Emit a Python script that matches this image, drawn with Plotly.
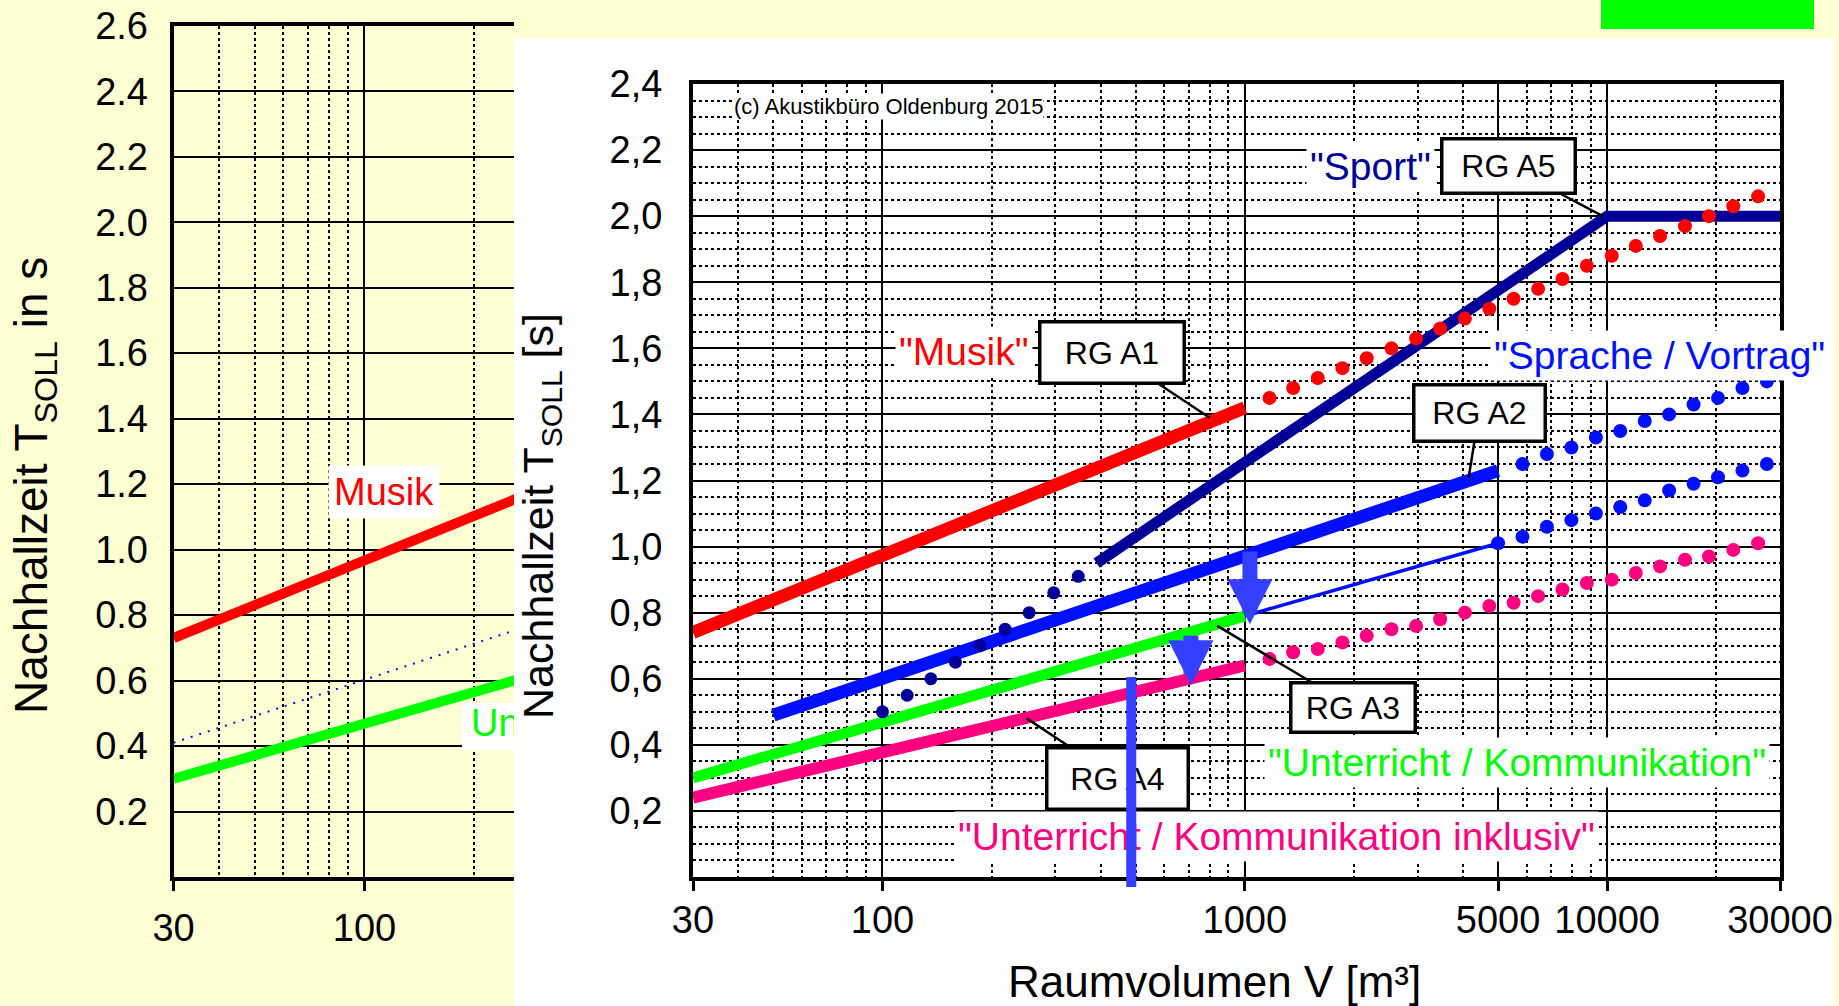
import math
import plotly.graph_objects as go

W, H = 1839, 1006

# ---------------- data: front chart ----------------
musik_v = [30, 1000]
musik_t = [0.74, 1.42]
musik_dot_v = [1170, 1360, 1590, 1860, 2170, 2540, 2970, 3460, 4050, 4730, 5520,
               6450, 7530, 8790, 10300, 12000, 14000, 16400, 19100, 22300, 26100]
musik_dot_t = [1.45, 1.48, 1.51, 1.54, 1.57, 1.60, 1.63, 1.66, 1.69, 1.72, 1.75,
               1.78, 1.81, 1.85, 1.88, 1.91, 1.94, 1.97, 2.00, 2.03, 2.06]

sport_v = [390, 10000, 30000]
sport_t = [0.95, 2.0, 2.0]
sport_dot_v = [100, 117, 136, 159, 186, 218, 254, 297, 347]
sport_dot_t = [0.50, 0.55, 0.60, 0.65, 0.70, 0.75, 0.80, 0.86, 0.91]

sprache_v = [50, 5000]
sprache_t = [0.49, 1.23]
sprache_dot_v = [5840, 6820, 7970, 9310, 10870, 12700, 14830, 17320, 20230, 23630, 27600]
sprache_dot_t = [1.25, 1.28, 1.30, 1.33, 1.35, 1.38, 1.40, 1.43, 1.45, 1.48, 1.50]

unterricht_v = [30, 1000]
unterricht_t = [0.30, 0.79]
unterricht_ext_v = [1000, 5000]
unterricht_ext_t = [0.79, 1.01]
unterricht_dot_v = [5840, 6820, 7970, 9310, 10870, 12700, 14830, 17320, 20230, 23630, 27600]
unterricht_dot_t = [1.03, 1.06, 1.08, 1.10, 1.12, 1.14, 1.17, 1.19, 1.21, 1.23, 1.25]

inklusiv_v = [30, 1000]
inklusiv_t = [0.24, 0.64]
inklusiv_dot_v = [1170, 1360, 1590, 1860, 2170, 2540, 2970, 3460, 4050, 4730, 5520,
                  6450, 7530, 8790, 10300, 12000, 14000, 16400, 19100, 22300, 26100]
inklusiv_dot_t = [0.66, 0.68, 0.69, 0.71, 0.73, 0.75, 0.76, 0.78, 0.80, 0.82, 0.83,
                  0.85, 0.87, 0.89, 0.90, 0.92, 0.94, 0.96, 0.97, 0.99, 1.01]

# arrows (V, from T, to T) and marker line
arrow_v = [1033, 710]
arrow_from_t = [0.99, 0.735]
arrow_to_t = [0.765, 0.58]
mark_v = 486
mark_t_top = 0.605
mark_t_bottom = -0.035

# RG labels: name, point on curve (V, T)
rg_names = ["RG A1", "RG A5", "RG A2", "RG A3", "RG A4"]
rg_point_v = [800, 9730, 4150, 840, 250]
rg_point_t = [1.39, 2.0, 1.21, 0.76, 0.48]

# ---------------- data: back chart (older version) ----------------
alt_musik_v = [30, 1000]
alt_musik_t = [0.73, 1.42]
alt_sprache_v = [30, 1000]
alt_sprache_t = [0.41, 0.97]
alt_unterricht_v = [30, 1000]
alt_unterricht_t = [0.30, 0.79]

# ---------------- ticks ----------------
front_xticks = [30, 100, 1000, 5000, 10000, 30000]
front_xtick_text = ["30", "100", "1000", "5000", "10000", "30000"]
front_yticks = [0.2, 0.4, 0.6, 0.8, 1.0, 1.2, 1.4, 1.6, 1.8, 2.0, 2.2, 2.4]
front_ytick_text = ["0,2", "0,4", "0,6", "0,8", "1,0", "1,2", "1,4", "1,6", "1,8", "2,0", "2,2", "2,4"]
back_xticks = [30, 100]
back_xtick_text = ["30", "100"]
back_yticks = [0.2, 0.4, 0.6, 0.8, 1.0, 1.2, 1.4, 1.6, 1.8, 2.0, 2.2, 2.4, 2.6]
back_ytick_text = ["0.2", "0.4", "0.6", "0.8", "1.0", "1.2", "1.4", "1.6", "1.8", "2.0", "2.2", "2.4", "2.6"]

major_x_grid = [100, 1000, 5000, 10000]
minor_x_grid = [40, 50, 60, 70, 80, 90, 200, 300, 400, 500, 600, 700, 800, 900,
                2000, 3000, 4000, 6000, 7000, 8000, 9000, 20000]
minor_y_grid = [round(0.05 * k, 2) for k in range(1, 48) if k % 4 != 0]

# ---------------- layout geometry (pixels) ----------------
FONT = "Liberation Sans, Arial, sans-serif"
FX0, FX1, FY0, FY1 = 693, 1780, 84, 877          # front plot area
BX0, BY0, BY1 = 173.6, 25.8, 877                 # back plot area
PANEL = (514, 38, 1834, 1006)                    # white front panel
DEC_B = 365.0                                    # back px per decade
LOG30 = math.log10(30)


def px(x):
    return x / W


def py(y):
    return 1 - y / H


def fx(x):  # pixel -> log10(V) on front axis
    return LOG30 + (x - FX0) / (FX1 - FX0) * 3


def fy(y):  # pixel -> T on front axis
    return (FY1 - y) / (FY1 - FY0) * 2.4


fig = go.Figure()

RED = "#ff0000"
GREEN = "#00ff00"
NAVY = "#000099"
BLUE = "#0010ff"
PINK = "#ff0080"
ARROW = "#3340ff"

# ---- back chart traces ----
fig.add_trace(go.Scatter(x=alt_musik_v, y=alt_musik_t, mode="lines",
                         line=dict(color=RED, width=10), xaxis="x", yaxis="y"))
fig.add_trace(go.Scatter(x=alt_sprache_v, y=alt_sprache_t, mode="lines",
                         line=dict(color=BLUE, width=2, dash="2px,7px"), xaxis="x", yaxis="y"))
fig.add_trace(go.Scatter(x=alt_unterricht_v, y=alt_unterricht_t, mode="lines",
                         line=dict(color=GREEN, width=10), xaxis="x", yaxis="y"))
# white label box + clipped text "Unterricht" (hidden behind front panel)
ux0 = 10 ** (LOG30 + (462 - BX0) / DEC_B)
ux1 = 10 ** (LOG30 + (560 - BX0) / DEC_B)
uy0 = (BY1 - 750) / (BY1 - BY0) * 2.6
uy1 = (BY1 - 703) / (BY1 - BY0) * 2.6
fig.add_trace(go.Scatter(x=[ux0, ux1, ux1, ux0, ux0], y=[uy0, uy0, uy1, uy1, uy0],
                         mode="lines", fill="toself", fillcolor="white",
                         line=dict(width=0, color="white"), xaxis="x", yaxis="y"))
fig.add_trace(go.Scatter(x=[10 ** (LOG30 + (471 - BX0) / DEC_B)], y=[(uy0 + uy1) / 2],
                         mode="text", text=["Unterricht"], textposition="middle right",
                         textfont=dict(color=GREEN, size=38, family=FONT),
                         cliponaxis=True, xaxis="x", yaxis="y"))

# ---- front chart traces ----
def line(v, t, color, width):
    fig.add_trace(go.Scatter(x=v, y=t, mode="lines", line=dict(color=color, width=width),
                             xaxis="x2", yaxis="y2"))


def dots(v, t, color, size):
    fig.add_trace(go.Scatter(x=v, y=t, mode="markers", marker=dict(color=color, size=size),
                             xaxis="x2", yaxis="y2"))


line(sprache_v, sprache_t, BLUE, 13)
dots(sprache_dot_v, sprache_dot_t, BLUE, 14)
line(unterricht_ext_v, unterricht_ext_t, BLUE, 3.5)
dots([unterricht_ext_v[-1]] + unterricht_dot_v, [unterricht_ext_t[-1]] + unterricht_dot_t, BLUE, 14)
line(unterricht_v, unterricht_t, GREEN, 11)
line(inklusiv_v, inklusiv_t, PINK, 12)
dots(inklusiv_dot_v, inklusiv_dot_t, PINK, 14)
line(sport_v, sport_t, NAVY, 11)
dots(sport_dot_v, sport_dot_t, NAVY, 13)
line(musik_v, musik_t, RED, 13)
dots(musik_dot_v, musik_dot_t, RED, 14)

# ---------------- axes ----------------
axis_common = dict(showline=True, linecolor="black", zeroline=False, automargin=False,
                   gridcolor="black", tickcolor="black",
                   tickfont=dict(size=38, color="black", family=FONT))

fig.update_layout(
    xaxis=dict(axis_common, type="log", domain=[px(BX0), px(PANEL[0])],
               range=[LOG30, LOG30 + (PANEL[0] - BX0) / DEC_B], anchor="y",
               tickmode="array", tickvals=back_xticks, ticktext=back_xtick_text,
               showgrid=True, gridwidth=2, linewidth=4, mirror=True,
               ticks="outside", ticklen=10, tickwidth=3, ticklabelstandoff=4,
               minor=dict(tickvals=minor_x_grid, showgrid=True, griddash="dot",
                          gridcolor="black", gridwidth=1.5, ticks="")),
    yaxis=dict(axis_common, range=[0, 2.6], domain=[py(BY1), py(BY0)], anchor="x",
               tickmode="array", tickvals=back_yticks, ticktext=back_ytick_text,
               showgrid=True, gridwidth=2, linewidth=4, mirror=False,
               ticks="", ticklabelstandoff=14),
    xaxis2=dict(axis_common, type="log", domain=[px(FX0), px(FX1)],
                range=[LOG30, math.log10(30000)], anchor="y2",
                tickmode="array", tickvals=front_xticks, ticktext=front_xtick_text,
                showgrid=True, gridwidth=2, linewidth=4, mirror=True,
                ticks="outside", ticklen=10, tickwidth=3, ticklabelstandoff=-4,
                minor=dict(tickvals=minor_x_grid, showgrid=True, griddash="dot",
                           gridcolor="black", gridwidth=1.5, ticks="")),
    yaxis2=dict(axis_common, range=[0, 2.4], domain=[py(FY1), py(FY0)], anchor="x2",
                tickmode="array", tickvals=front_yticks, ticktext=front_ytick_text,
                showgrid=True, gridwidth=2, linewidth=4, mirror=True,
                ticks="", ticklabelstandoff=19,
                minor=dict(tickvals=minor_y_grid, showgrid=True, griddash="dot",
                           gridcolor="black", gridwidth=1.5, ticks="")),
    # strip of the back chart visible above the front panel
    xaxis3=dict(type="log", domain=[px(BX0), px(BX0 + 3 * DEC_B)], automargin=False,
                range=[LOG30, math.log10(30000)], anchor="y3", side="top",
                showline=True, linewidth=4, linecolor="black", zeroline=False,
                tickmode="array", tickvals=major_x_grid, showticklabels=False, ticks="",
                showgrid=True, gridcolor="black", gridwidth=2,
                minor=dict(tickvals=minor_x_grid, showgrid=True, griddash="dot",
                           gridcolor="black", gridwidth=1.5, ticks="")),
    yaxis3=dict(range=[0, 1], domain=[py(PANEL[1]), py(BY0)], anchor="x3", side="right",
                automargin=False,
                showline=True, linewidth=4, linecolor="black", zeroline=False,
                showgrid=False, showticklabels=False, ticks=""),
)

# ---------------- shapes (background panels) ----------------
shapes = [
    dict(type="rect", xref="paper", yref="paper", layer="below",
         x0=px(PANEL[0]), x1=px(PANEL[2]), y0=py(PANEL[3]), y1=py(PANEL[1]),
         fillcolor="white", line=dict(width=0)),
    dict(type="rect", xref="paper", yref="paper", layer="below",
         x0=px(1601), x1=px(1814), y0=py(29), y1=py(0),
         fillcolor=GREEN, line=dict(width=0)),
]

# ---------------- annotations ----------------
ann = []
C = dict(xanchor="center", yanchor="middle")
# axis titles
ann.append(dict(C, xref="paper", yref="paper", x=px(34), y=py(486), textangle=-90,
                text="Nachhallzeit T<sub>SOLL</sub> in s", showarrow=False,
                font=dict(size=46, color="black", family=FONT)))
ann.append(dict(C, xref="paper", yref="paper", x=px(541), y=py(516), textangle=-90,
                text="Nachhallzeit T<sub>SOLL</sub> [s]", showarrow=False,
                font=dict(size=43, color="black", family=FONT)))
ann.append(dict(C, xref="paper", yref="paper", x=px(1214), y=py(981),
                text="Raumvolumen V [m³]", showarrow=False,
                font=dict(size=44, color="black", family=FONT)))
# back chart label
ann.append(dict(C, xref="paper", yref="paper", x=px(384), y=py(492), text="Musik",
                showarrow=False, bgcolor="white", borderpad=5,
                font=dict(size=38, color=RED, family=FONT)))
# copyright
ann.append(dict(C, xref="paper", yref="paper", x=px(888), y=py(106),
                text="(c) Akustikbüro Oldenburg 2015", showarrow=False, bgcolor="white",
                borderpad=0, font=dict(size=22, color="black", family=FONT)))
# curve labels
labels = [
    ('"Musik"', 964, 351, RED),
    ('"Sport"', 1370, 167, NAVY),
    ('"Sprache / Vortrag"', 1659, 355, BLUE),
    ('"Unterricht / Kommunikation"', 1517, 762, GREEN),
    ('"Unterricht / Kommunikation inklusiv"', 1276, 836, PINK),
]
for txt, x, y, c in labels:
    ann.append(dict(C, xref="paper", yref="paper", x=px(x), y=py(y), text=txt,
                    showarrow=False, bgcolor="white", borderpad=3,
                    font=dict(size=39, color=c, family=FONT)))
# RG boxes (centre pixel, size)
rg_box = [(1112, 353, 148, 65), (1508, 166, 137, 58), (1479, 413, 135, 60),
          (1353, 707, 128, 53), (1117, 778, 145, 65)]
for name, v, t, (bx, by, bw, bh) in zip(rg_names, rg_point_v, rg_point_t, rg_box):
    ann.append(dict(xref="x2", yref="y2", x=math.log10(v), y=t,
                    axref="x2", ayref="y2", ax=fx(bx), ay=fy(by),
                    text=name, showarrow=True, arrowhead=0, arrowwidth=2.5,
                    arrowcolor="black", standoff=0,
                    bgcolor="white", bordercolor="black", borderwidth=3.5, borderpad=0,
                    width=bw - 7, height=bh - 7,
                    font=dict(size=32, color="black", family=FONT)))
# blue arrows
for v, t0, t1 in zip(arrow_v, arrow_from_t, arrow_to_t):
    ann.append(dict(xref="x2", yref="y2", x=math.log10(v), y=t1,
                    axref="x2", ayref="y2", ax=math.log10(v), ay=t0,
                    text="", showarrow=True, arrowhead=2, arrowsize=0.6,
                    arrowwidth=15, arrowcolor=ARROW, standoff=0))
# vertical marker line (on top of everything)
ann.append(dict(xref="x2", yref="y2", x=math.log10(mark_v), y=mark_t_top,
                axref="x2", ayref="y2", ax=math.log10(mark_v), ay=mark_t_bottom,
                text="", showarrow=True, arrowhead=0, arrowwidth=10,
                arrowcolor=ARROW, standoff=0))

fig.update_layout(
    template="none",
    width=W, height=H, autosize=False,
    margin=dict(l=0, r=0, t=0, b=0, pad=0, autoexpand=False),
    paper_bgcolor="#ffffd4", plot_bgcolor="rgba(0,0,0,0)",
    showlegend=False, shapes=shapes, annotations=ann,
    font=dict(family=FONT, color="black"),
)

fig.write_html("out.html", config={"displayModeBar": False},
               post_script="document.body.style.margin='0';document.body.style.overflow='hidden';")
